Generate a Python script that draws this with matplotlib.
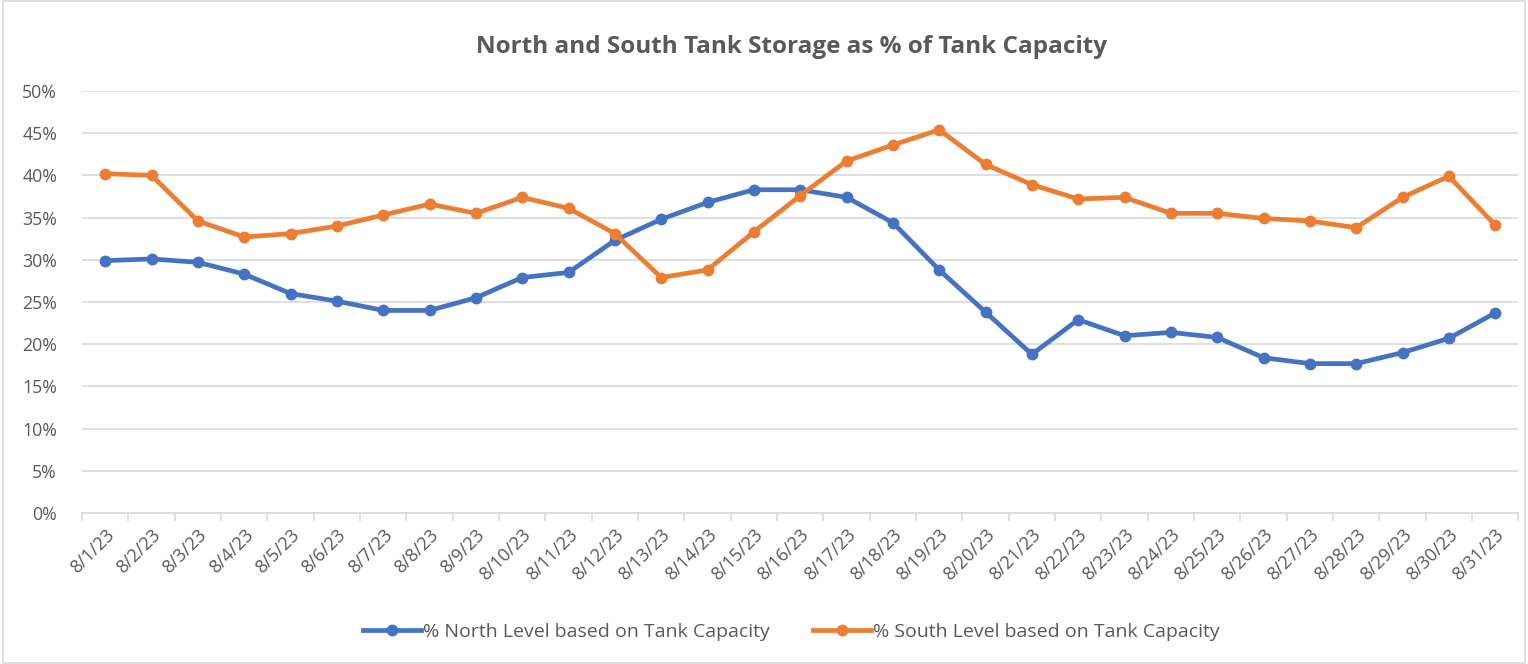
import numpy as np
import matplotlib

matplotlib.use("Agg")
import matplotlib.pyplot as plt
from matplotlib.ticker import PercentFormatter, FixedLocator

dates = [f"8/{d}/23" for d in range(1, 32)]

north_pct = [29.9, 30.1, 29.7, 28.3, 26.0, 25.1, 24.0, 24.0, 25.5, 27.9,
             28.5, 32.3, 34.8, 36.8, 38.3, 38.3, 37.4, 34.4, 28.8, 23.8,
             18.8, 22.9, 21.0, 21.4, 20.8, 18.4, 17.7, 17.7, 19.0, 20.7, 23.7]
south_pct = [40.2, 40.0, 34.6, 32.7, 33.1, 34.0, 35.3, 36.6, 35.5, 37.4,
             36.1, 33.1, 27.9, 28.8, 33.3, 37.6, 41.7, 43.6, 45.4, 41.3,
             38.9, 37.2, 37.4, 35.5, 35.5, 34.9, 34.6, 33.8, 37.4, 39.9, 34.1]

north_label = "% North Level based on Tank Capacity"
south_label = "% South Level based on Tank Capacity"

BLUE = "#4472C4"
ORANGE = "#ED7D31"
TEXT = "#595959"
GRID = "#D9D9D9"

plt.rcParams["font.family"] = ["Open Sans", "DejaVu Sans"]

fig = plt.figure(figsize=(15.28, 6.64), dpi=100)
ax = fig.add_axes([0.0537, 0.2274, 0.94, 0.6356])

x = np.arange(len(dates))
ax.plot(x, north_pct, color=BLUE, lw=3.4, marker="o", ms=7.5, label=north_label)
ax.plot(x, south_pct, color=ORANGE, lw=3.4, marker="o", ms=7.5, label=south_label)

ax.set_xlim(-0.5, len(dates) - 0.5)
ax.set_ylim(0, 50)
ax.set_yticks(np.arange(0, 51, 5))
ax.yaxis.set_major_formatter(PercentFormatter(decimals=0))
ax.grid(axis="y", color=GRID, lw=1.2)
ax.set_axisbelow(True)

for s in ["top", "right", "left"]:
    ax.spines[s].set_visible(False)
ax.spines["bottom"].set_color(GRID)
ax.spines["bottom"].set_linewidth(1.2)

# category labels sit under each point, tick marks go between categories
ax.set_xticks(x)
ax.set_xticklabels(dates, rotation=45, ha="right", rotation_mode="anchor",
                   fontsize=13, color=TEXT)
ax.tick_params(axis="x", which="major", length=0, pad=9)
ax.xaxis.set_minor_locator(FixedLocator(np.arange(-0.5, len(dates), 1.0)))
ax.tick_params(axis="x", which="minor", length=6, color=GRID, width=1.2)
ax.tick_params(axis="y", length=0, labelsize=12.8, labelcolor=TEXT, pad=18)

fig.suptitle("North and South Tank Storage as % of Tank Capacity",
             x=0.518, y=0.947, fontsize=17.5, fontweight="bold", color=TEXT)

leg = fig.legend(loc="center", bbox_to_anchor=(0.518, 0.048), ncol=2,
                 frameon=False, fontsize=14, handlelength=3.0,
                 columnspacing=2.2, handletextpad=0.1)
for t in leg.get_texts():
    t.set_color(TEXT)

border = plt.Rectangle((0.002, 0.002), 0.996, 0.996, transform=fig.transFigure,
                       fill=False, edgecolor=GRID, lw=1.2)
fig.patches.append(border)

fig.savefig("out.png", dpi=100)
